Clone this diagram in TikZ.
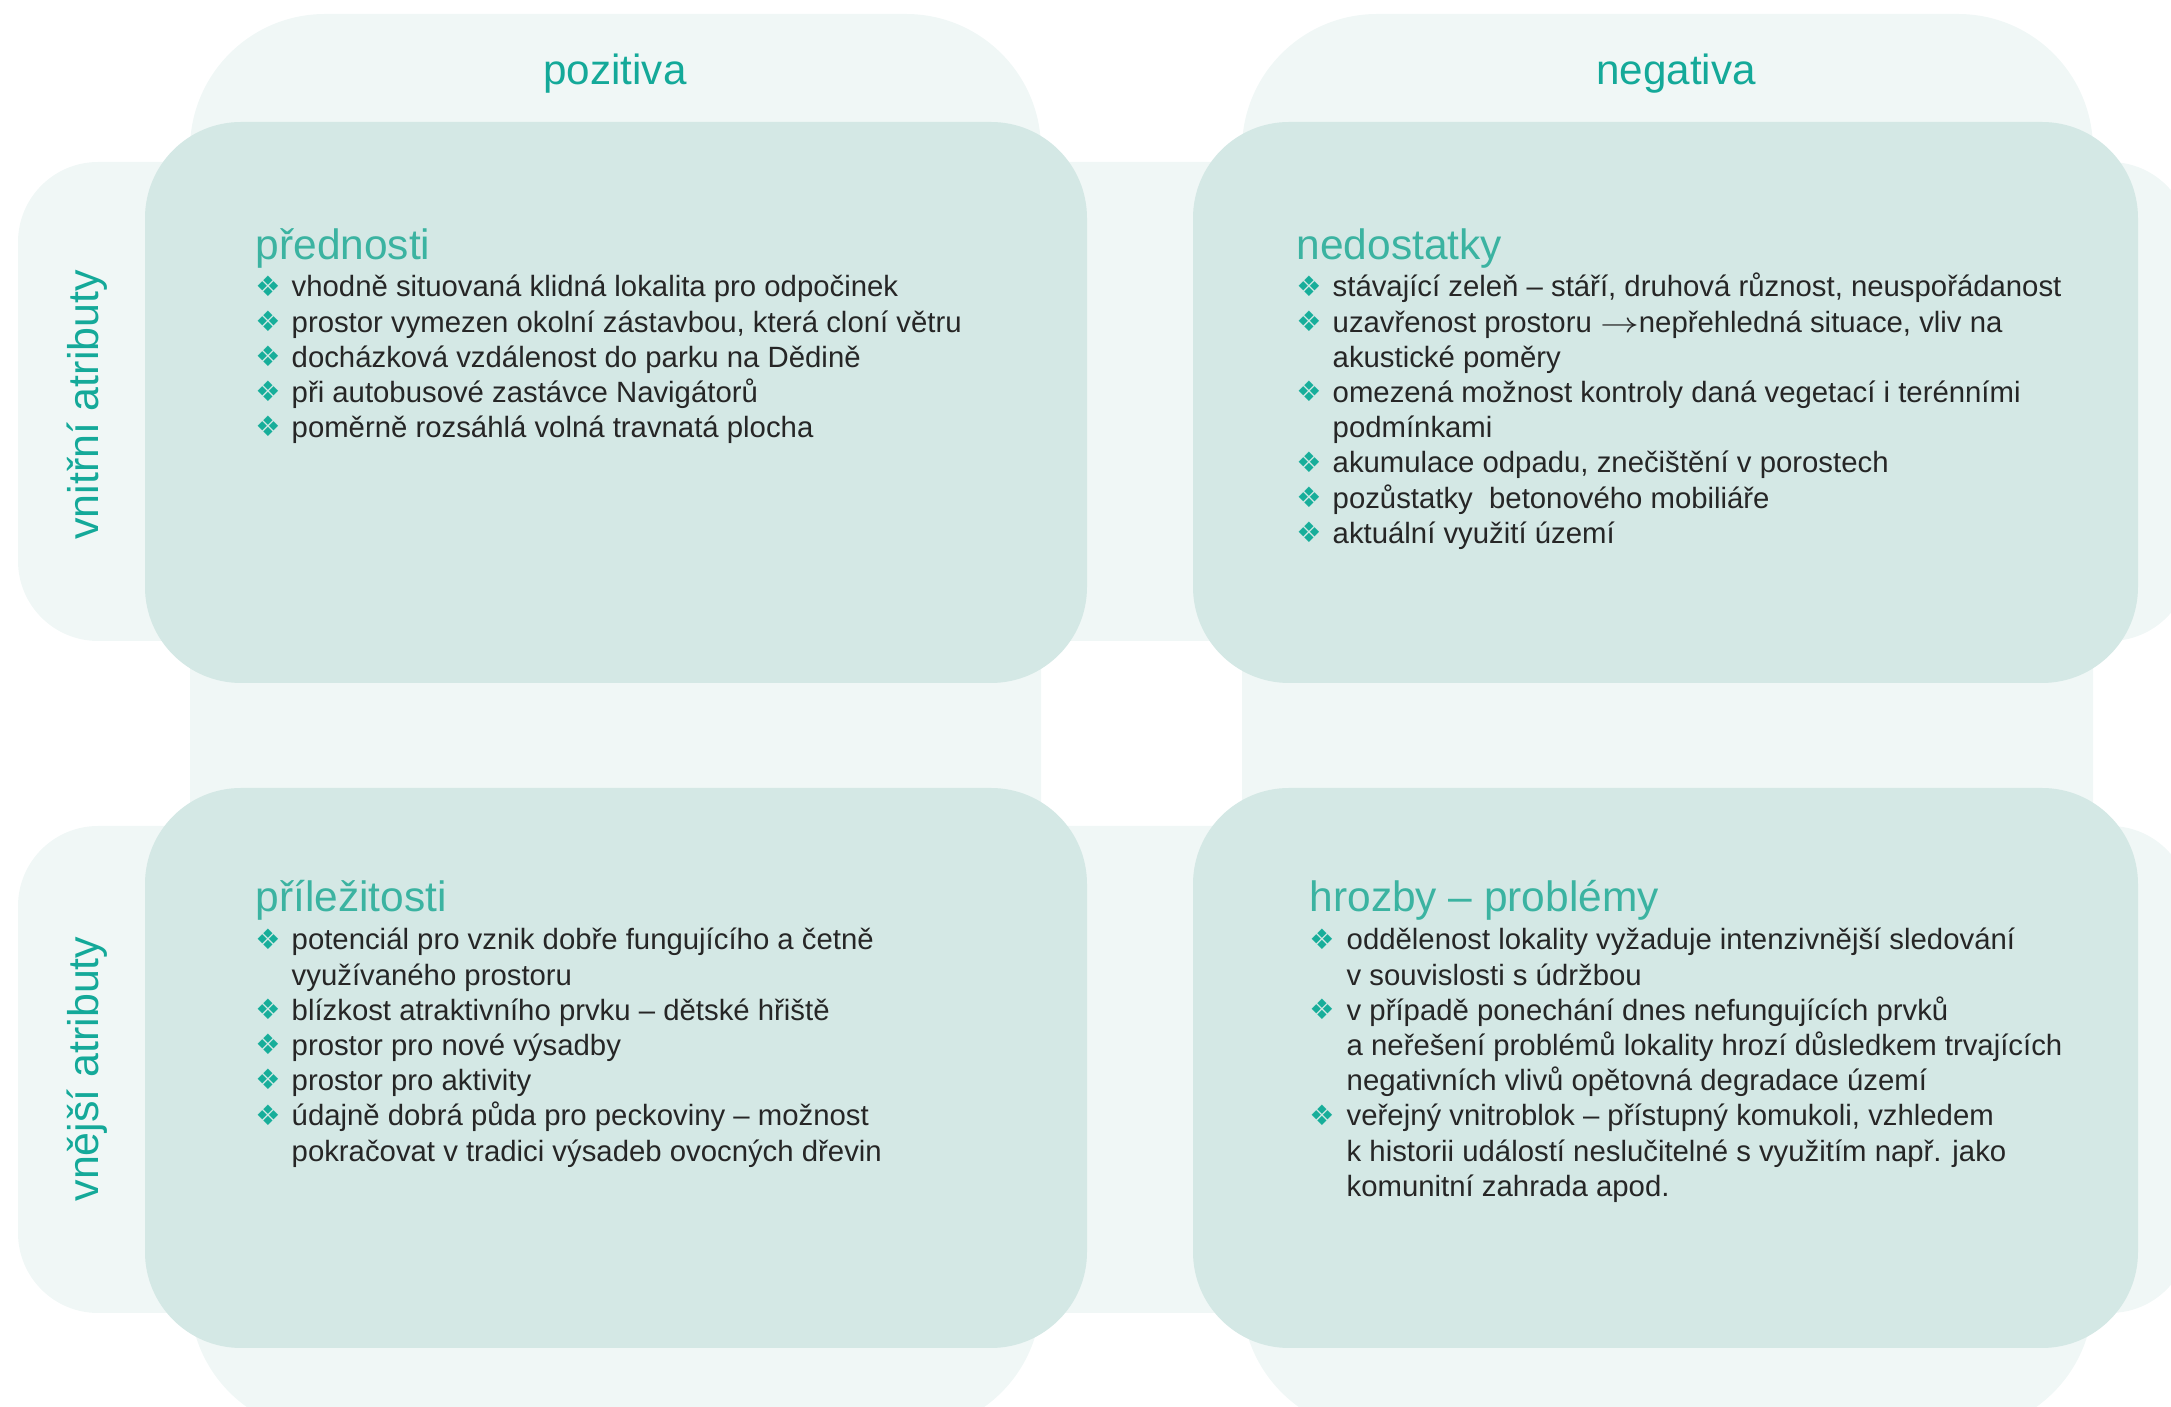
\documentclass[tikz,border=0pt]{standalone}
\usepackage{fontspec}
\usepackage{graphicx}
\setmainfont{Liberation Sans}
\newfontfamily\symfont{DejaVu Sans}
\definecolor{lightbg}{HTML}{F0F7F6}
\definecolor{boxbg}{HTML}{D4E8E5}
\definecolor{titlec}{HTML}{14A999}
\definecolor{headc}{HTML}{3BB3A1}
\definecolor{bulc}{HTML}{17AE9A}
\definecolor{txtc}{HTML}{262626}
\newcommand{\bodyf}{\fontsize{8.34}{10}\selectfont}
\newcommand{\headf}{\fontsize{12.07}{14}\selectfont}
\newcommand{\bulf}{\symfont\fontsize{8.0}{10}\selectfont}
\newcommand{\arr}{\scalebox{1.3}[1]{$\rightarrow$}}
\tikzset{
  lightshape/.style={fill=lightbg},
  mainbox/.style={fill=boxbg, rounded corners=0.96cm},
  coltitle/.style={anchor=base, inner sep=0pt, text=titlec, font=\fontsize{12}{14}\selectfont},
  rowtitle/.style={anchor=base, inner sep=0pt, rotate=90, text=titlec, font=\fontsize{12.2}{14}\selectfont},
  heading/.style={anchor=base west, inner sep=0pt, text=headc, font=\headf},
  bul/.style={anchor=center, inner sep=0pt, text=bulc, font=\bulf},
  itemtext/.style={anchor=base west, inner sep=0pt, text=txtc, font=\bodyf},
}
\begin{document}
\begin{tikzpicture}[x=0.01cm, y=-0.01cm]
\useasboundingbox (0,0) rectangle (2171,1407);
\clip (0,0) rectangle (2171,1407);
% light background bands
\fill[lightshape, rounded corners=1.35cm] (190,14) rectangle (1041,1432);
\fill[lightshape, rounded corners=1.35cm] (1242,14) rectangle (2093,1432);
\fill[lightshape, rounded corners=0.8cm] (18,162) rectangle (2190,641);
\fill[lightshape, rounded corners=0.8cm] (18,826) rectangle (2190,1313);
% main boxes
\fill[mainbox] (145,122) rectangle (1087,683);
\fill[mainbox] (1193,122) rectangle (2138,683);
\fill[mainbox] (145,788) rectangle (1087,1348);
\fill[mainbox] (1193,788) rectangle (2138,1348);
% column and row titles
\node[coltitle] (pos) at (615,85) {pozitiva};
\node[coltitle] (neg) at (1676,85) {negativa};
\node[rowtitle] (vni) at (98,405) {vnitřní atributy};
\node[rowtitle] (vne) at (98,1069) {vnější atributy};
% přednosti
\node[heading] (h1) at (255,259.5) {přednosti};
\node[bul] (b11) at (268,286) {❖};
\node[itemtext] (t11) at (291,297) {vhodně situovaná klidná lokalita pro odpočinek};
\node[bul] (b12) at (268,321.2) {❖};
\node[itemtext] (t12) at (291,332.2) {prostor vymezen okolní zástavbou, která cloní větru};
\node[bul] (b13) at (268,356.4) {❖};
\node[itemtext] (t13) at (291,367.4) {docházková vzdálenost do parku na Dědině};
\node[bul] (b14) at (268,391.6) {❖};
\node[itemtext] (t14) at (291,402.6) {při autobusové zastávce Navigátorů};
\node[bul] (b15) at (268,426.8) {❖};
\node[itemtext] (t15) at (291,437.8) {poměrně rozsáhlá volná travnatá plocha};
% nedostatky
\node[heading] (h2) at (1296,259.5) {nedostatky};
\node[bul] (b21) at (1309,286) {❖};
\node[itemtext] (t21) at (1332,297) {stávající zeleň – stáří, druhová různost, neuspořádanost};
\node[bul] (b22) at (1309,321.2) {❖};
\node[itemtext] (t22) at (1332,332.2) {uzavřenost prostoru \arr nepřehledná situace, vliv na};
\node[itemtext] (t23) at (1332,367.4) {akustické poměry};
\node[bul] (b24) at (1309,391.6) {❖};
\node[itemtext] (t24) at (1332,402.6) {omezená možnost kontroly daná vegetací i terénními};
\node[itemtext] (t25) at (1332,437.8) {podmínkami};
\node[bul] (b26) at (1309,462) {❖};
\node[itemtext] (t26) at (1332,473) {akumulace odpadu, znečištění v porostech};
\node[bul] (b27) at (1309,497.2) {❖};
\node[itemtext] (t27) at (1332,508.2) {pozůstatky\ \ betonového mobiliáře};
\node[bul] (b28) at (1309,532.4) {❖};
\node[itemtext] (t28) at (1332,543.4) {aktuální využití území};
% příležitosti
\node[heading] (h3) at (255,911.5) {příležitosti};
\node[bul] (b31) at (268,939) {❖};
\node[itemtext] (t31) at (291,950) {potenciál pro vznik dobře fungujícího a četně};
\node[itemtext] (t32) at (291,985.2) {využívaného prostoru};
\node[bul] (b33) at (268,1009.4) {❖};
\node[itemtext] (t33) at (291,1020.4) {blízkost atraktivního prvku – dětské hřiště};
\node[bul] (b34) at (268,1044.6) {❖};
\node[itemtext] (t34) at (291,1055.6) {prostor pro nové výsadby};
\node[bul] (b35) at (268,1079.8) {❖};
\node[itemtext] (t35) at (291,1090.8) {prostor pro aktivity};
\node[bul] (b36) at (268,1115) {❖};
\node[itemtext] (t36) at (291,1126) {údajně dobrá půda pro peckoviny – možnost};
\node[itemtext] (t37) at (291,1161.2) {pokračovat v tradici výsadeb ovocných dřevin};
% hrozby – problémy
\node[heading] (h4) at (1309,911.5) {hrozby – problémy};
\node[bul] (b41) at (1322,939) {❖};
\node[itemtext] (t41) at (1346,950) {oddělenost lokality vyžaduje intenzivnější sledování};
\node[itemtext] (t42) at (1346,985.2) {v souvislosti s údržbou};
\node[bul] (b43) at (1322,1009.4) {❖};
\node[itemtext] (t43) at (1346,1020.4) {v případě ponechání dnes nefungujících prvků};
\node[itemtext] (t44) at (1346,1055.6) {a neřešení problémů lokality hrozí důsledkem trvajících};
\node[itemtext] (t45) at (1346,1090.8) {negativních vlivů opětovná degradace území};
\node[bul] (b46) at (1322,1115) {❖};
\node[itemtext] (t46) at (1346,1126) {veřejný vnitroblok – přístupný komukoli, vzhledem};
\node[itemtext] (t47) at (1346,1161.2) {k historii událostí neslučitelné s využitím např. jako};
\node[itemtext] (t48) at (1346,1196.4) {komunitní zahrada apod.};
\end{tikzpicture}
\end{document}
